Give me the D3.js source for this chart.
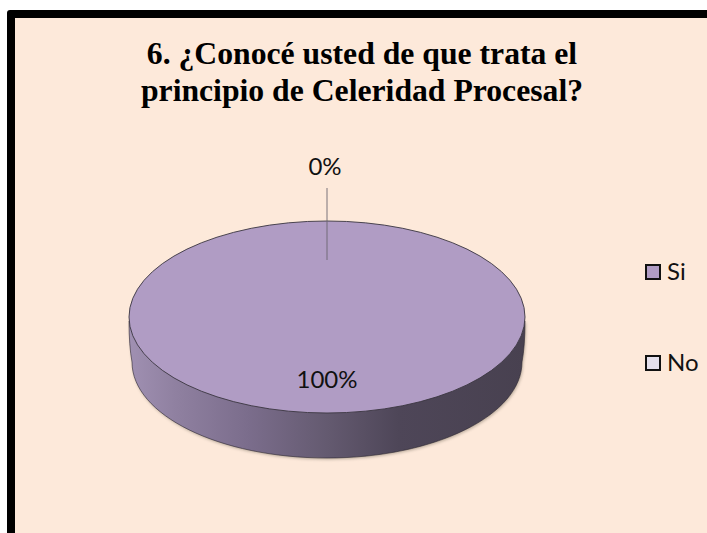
<!DOCTYPE html>
<meta charset="utf-8">
<style>
html, body { margin: 0; padding: 0; background: #fff; }
svg { display: block; }
.title { font-family: "Liberation Serif", serif; font-weight: bold; font-size: 31.7px; fill: #000; text-anchor: middle; }
.lbl { font-family: Lato, "Open Sans", sans-serif; font-size: 24px; fill: #111; }
</style>
<svg width="707" height="533"></svg>
<script src="https://d3js.org/d3.v7.min.js"></script>
<script>

var categories = ["Si", "No"];
var values = [100, 0];
var percentLabels = ["100%", "0%"];
var colors = ["#b09cc4", "#e4e0ec"];
var titleLines = ["6. ¿Conocé usted de que trata el", "principio de Celeridad Procesal?"];

var svg = d3.select("svg"),
    width = +svg.attr("width"),
    height = +svg.attr("height");

// marco
svg.append("rect").attr("x", 7).attr("y", 10).attr("width", width).attr("height", height)
    .attr("rx", 3).attr("fill", "#000");
svg.append("rect").attr("x", 15).attr("y", 18).attr("width", width).attr("height", height)
    .attr("fill", "#fde9da");

svg.selectAll(".title")
    .data(titleLines)
  .enter().append("text")
    .attr("class", "title")
    .attr("x", 362)
    .attr("y", function(d, i) { return 64 + i * 37; })
    .text(function(d) { return d; });

// torta 3d
var cx = 327, cy = 317, rx = 198, ry = 96, depth = 45, rxBase = 195;

var defs = svg.append("defs");
var grad = defs.append("linearGradient").attr("id", "side")
    .attr("gradientUnits", "userSpaceOnUse")
    .attr("x1", cx - rx).attr("x2", cx + rx).attr("y1", 0).attr("y2", 0);
[[0, "#a090b2"], [0.12, "#8f80a0"], [0.3, "#7b6d8c"], [0.5, "#645a70"], [0.68, "#4e4658"], [1, "#484150"]]
  .forEach(function(s) {
    grad.append("stop").attr("offset", s[0]).attr("stop-color", s[1]);
  });
var blur = defs.append("filter").attr("id", "shadow")
    .attr("x", "-5%").attr("y", "-5%").attr("width", "110%").attr("height", "115%");
blur.append("feGaussianBlur").attr("stdDeviation", 1.4);

var pie = d3.pie().sort(null).value(function(d) { return d; });
var slices = pie(values);

// las caras se dibujan en un circulo y se aplastan con scale
var arc = d3.arc().innerRadius(0).outerRadius(rx);
var ky = ry / rx;

function sidePath() {
  var k = 0.5523;
  var by = cy + depth;
  var p = d3.path();
  p.moveTo(cx - rx, cy + 4);
  p.quadraticCurveTo(cx - rx, by - 16, cx - rxBase, by);
  p.bezierCurveTo(cx - rxBase, by + ry * k, cx - rxBase * k, by + ry, cx, by + ry);
  p.bezierCurveTo(cx + rxBase * k, by + ry, cx + rxBase, by + ry * k, cx + rxBase, by);
  p.quadraticCurveTo(cx + rx, by - 16, cx + rx, cy + 4);
  p.closePath();
  return p.toString();
}

svg.append("path").attr("d", sidePath())
    .attr("transform", "translate(1,1.5)")
    .attr("fill", "#7a7060").attr("opacity", 0.5).attr("filter", "url(#shadow)");
svg.append("path").attr("d", sidePath())
    .attr("fill", "url(#side)").attr("stroke", "#2b2730").attr("stroke-width", 0.6);

svg.append("g")
    .attr("transform", "translate(" + cx + "," + cy + ") scale(1," + ky + ")")
  .selectAll("path")
    .data(slices)
  .enter().append("path")
    .attr("d", arc)
    .attr("fill", function(d, i) { return colors[i]; })
    .attr("stroke", function(d) { return d.value > 0 ? "#3a3540" : "none"; })
    .attr("stroke-width", 0.9)
    .attr("vector-effect", "non-scaling-stroke");

// linea guia del 0%
svg.append("line")
    .attr("x1", cx).attr("x2", cx).attr("y1", 188).attr("y2", 260)
    .attr("stroke", "#6b6570").attr("stroke-opacity", 0.75).attr("stroke-width", 1.2);

svg.append("text").attr("class", "lbl").attr("text-anchor", "middle")
    .attr("x", 325).attr("y", 175).text(percentLabels[1]);
svg.append("text").attr("class", "lbl").attr("text-anchor", "middle")
    .attr("x", 327).attr("y", 388).text(percentLabels[0]);

// leyenda
var legendY = d3.scalePoint().domain(categories).range([272, 363]);

var legend = svg.selectAll(".legend")
    .data(categories)
  .enter().append("g")
    .attr("class", "legend")
    .attr("transform", function(d) { return "translate(646," + legendY(d) + ")"; });

legend.append("rect")
    .attr("x", 0).attr("y", -7).attr("width", 14).attr("height", 14)
    .attr("fill", function(d, i) { return colors[i]; })
    .attr("stroke", "#111").attr("stroke-width", 2);

legend.append("text")
    .attr("class", "lbl")
    .attr("x", 21).attr("y", 8)
    .text(function(d) { return d; });

</script>
